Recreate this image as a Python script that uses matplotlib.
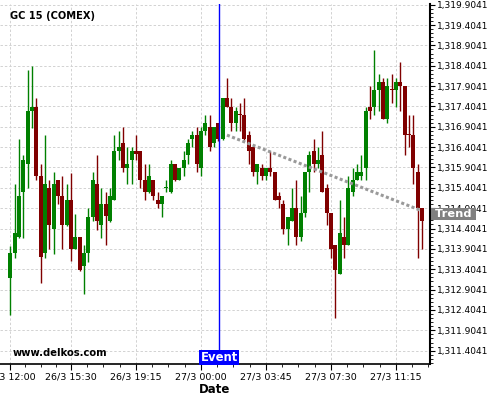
import numpy as np
import matplotlib
matplotlib.use("Agg")
import matplotlib.pyplot as plt
from matplotlib.ticker import FuncFormatter, FixedLocator
import matplotlib.transforms as mtransforms

# ---- data ----
opens = [1313.20, 1313.80, 1314.20, 1315.31, 1316.00, 1317.29, 1317.39, 1315.70, 1313.81, 1315.40,
         1314.39, 1315.60, 1315.20, 1314.50, 1315.10, 1313.89, 1314.20, 1313.49, 1313.80, 1314.69,
         1315.49, 1314.50, 1315.00, 1314.59, 1315.11, 1316.31, 1316.51, 1315.90, 1316.10, 1316.31,
         1316.31, 1315.60, 1315.30, 1315.60, 1315.10, 1315.00, 1315.40, 1315.30, 1315.99, 1315.60,
         1315.90, 1316.20, 1316.60, 1316.70, 1315.90, 1316.80, 1316.90, 1316.51, 1317.00, 1316.61,
         1317.60, 1317.40, 1317.00, 1317.21, 1317.20, 1316.70, 1316.41, 1315.79, 1315.90, 1315.70,
         1315.90, 1315.79, 1315.20, 1315.00, 1314.39, 1314.59, 1314.90, 1314.20, 1314.79, 1315.79,
         1316.31, 1315.99, 1316.20, 1315.40, 1314.79, 1314.00, 1313.29, 1314.20, 1314.00, 1315.30,
         1315.60, 1315.70, 1315.90, 1317.40, 1317.40, 1317.80, 1318.01, 1317.10, 1317.83, 1317.80,
         1318.01, 1317.90, 1316.72, 1316.70, 1315.79, 1314.90]
highs = [1313.98, 1315.49, 1316.60, 1316.20, 1318.29, 1318.40, 1317.60, 1315.98, 1316.70, 1315.59,
         1315.79, 1315.60, 1315.70, 1315.49, 1315.78, 1314.77, 1314.20, 1314.00, 1314.90, 1315.79,
         1316.20, 1315.40, 1315.30, 1315.40, 1316.70, 1316.80, 1316.90, 1316.41, 1316.41, 1316.70,
         1316.31, 1315.99, 1315.99, 1315.60, 1315.30, 1315.20, 1315.60, 1316.09, 1315.99, 1315.90,
         1316.31, 1316.60, 1316.80, 1316.90, 1316.90, 1317.20, 1317.20, 1316.90, 1317.00, 1317.60,
         1318.10, 1317.60, 1317.40, 1317.50, 1317.60, 1316.80, 1316.41, 1315.99, 1315.99, 1315.90,
         1316.31, 1315.79, 1315.30, 1315.10, 1314.69, 1315.40, 1315.60, 1315.20, 1315.79, 1316.31,
         1316.60, 1316.41, 1316.80, 1315.49, 1314.79, 1314.00, 1315.10, 1314.69, 1315.70, 1315.90,
         1315.99, 1316.20, 1317.40, 1317.90, 1318.79, 1318.20, 1318.10, 1318.10, 1318.20, 1318.10,
         1318.50, 1317.90, 1317.20, 1317.20, 1315.99, 1314.90]
lows = [1312.29, 1313.69, 1314.18, 1314.18, 1315.41, 1316.88, 1315.59, 1313.07, 1313.69, 1313.89,
        1313.79, 1315.00, 1313.89, 1314.46, 1313.60, 1313.89, 1313.36, 1312.79, 1313.59, 1314.59,
        1314.38, 1314.18, 1314.00, 1314.57, 1315.11, 1316.09, 1315.79, 1315.49, 1315.49, 1316.09,
        1315.40, 1315.10, 1315.28, 1315.10, 1314.90, 1314.69, 1315.30, 1315.28, 1315.57, 1315.60,
        1315.70, 1315.99, 1316.41, 1315.79, 1315.70, 1316.70, 1316.31, 1316.41, 1316.55, 1316.58,
        1317.38, 1316.80, 1316.80, 1316.80, 1316.58, 1315.99, 1315.70, 1315.49, 1315.60, 1315.60,
        1315.70, 1315.10, 1314.90, 1314.28, 1314.00, 1314.59, 1314.00, 1314.10, 1314.69, 1315.30,
        1315.79, 1315.90, 1315.30, 1314.49, 1313.69, 1312.20, 1313.29, 1313.69, 1314.00, 1315.20,
        1315.60, 1315.60, 1315.60, 1317.10, 1317.20, 1317.29, 1317.10, 1317.00, 1317.50, 1317.40,
        1317.29, 1316.20, 1316.41, 1315.49, 1313.69, 1313.89]
closes = [1313.80, 1314.29, 1315.20, 1316.09, 1317.29, 1317.39, 1315.70, 1313.70, 1315.49, 1314.50,
          1315.49, 1315.20, 1314.50, 1315.10, 1313.89, 1314.20, 1313.39, 1313.80, 1314.69, 1315.60,
          1314.59, 1315.00, 1314.70, 1315.20, 1316.31, 1316.41, 1315.90, 1315.99, 1316.31, 1316.23,
          1315.60, 1315.30, 1315.70, 1315.20, 1315.00, 1315.20, 1315.41, 1315.99, 1315.60, 1315.90,
          1316.09, 1316.51, 1316.70, 1315.99, 1316.80, 1317.00, 1316.41, 1316.90, 1316.61, 1317.60,
          1317.40, 1317.00, 1317.29, 1317.19, 1316.61, 1316.31, 1315.79, 1315.99, 1315.70, 1315.90,
          1315.79, 1315.11, 1315.11, 1314.39, 1314.69, 1314.90, 1314.20, 1314.79, 1315.79, 1316.20,
          1315.99, 1316.09, 1315.30, 1314.79, 1313.89, 1313.39, 1314.29, 1314.00, 1315.40, 1315.60,
          1315.79, 1315.79, 1317.29, 1317.29, 1317.80, 1318.01, 1317.10, 1317.90, 1317.80, 1318.01,
          1317.90, 1316.70, 1316.70, 1315.90, 1314.90, 1314.59]

tick_idx = [0, 14, 29, 44, 59, 74, 89]
tick_labels = ["26/3 12:00", "26/3 15:30", "26/3 19:15", "27/3 00:00",
               "27/3 03:45", "27/3 07:30", "27/3 11:15"]
event_idx = 48.2
trend_idx = [50, 94.5]
trend_vals = [1316.70, 1314.86]
y_ticks = [1311.4041 + 0.5 * k for k in range(18)]

# ---- figure ----
fig = plt.figure(figsize=(5, 4), dpi=100)
ax = fig.add_axes([0.0, 0.09, 0.86, 0.8993])

n = len(opens)
x = np.arange(n)
o = np.array(opens); h = np.array(highs); l = np.array(lows); c = np.array(closes)
up = c >= o
cols = np.where(up, "#008000", "#800000")

ax.vlines(x, l, h, colors=cols, linewidth=1.0, zorder=3)
bottoms = np.minimum(o, c)
heights = np.maximum(np.abs(c - o), 0.025)
ax.bar(x, heights, bottom=bottoms, width=0.88, color=cols, linewidth=0, zorder=4)

# trend line
ax.plot(trend_idx, trend_vals, color="#9a9a9a", linewidth=2.2,
        linestyle=(0, (1.0, 0.8)), zorder=5)

# event line
ax.axvline(event_idx, color="#0000ff", linewidth=1.0, zorder=6)

ax.set_xlim(-2.38, 96.86)
ax.set_ylim(1311.076, 1319.914)

# axes styling
for s in ["left", "top"]:
    ax.spines[s].set_visible(False)
ax.spines["right"].set_linewidth(1.5)
ax.spines["bottom"].set_linewidth(1.2)

ax.yaxis.tick_right()
ax.yaxis.set_major_locator(FixedLocator(y_ticks))
ax.yaxis.set_minor_locator(FixedLocator(np.arange(1311.1041, 1319.95, 0.1)))
ax.yaxis.set_major_formatter(FuncFormatter(lambda v, p: f"{v:,.4f}"))
ax.tick_params(axis="y", which="major", length=3.5, width=0.8, labelsize=6.5, pad=1.5)
ax.tick_params(axis="y", which="minor", length=2, width=0.6)

ax.set_xticks(tick_idx)
ax.set_xticklabels(tick_labels)
minor_x = []
for a, b in zip(tick_idx[:-1], tick_idx[1:]):
    minor_x += [a + (b - a) * k / 4 for k in (1, 2, 3)]
minor_x += [89 + 3.75 * k for k in (1, 2)]
ax.xaxis.set_minor_locator(FixedLocator(minor_x))
ax.tick_params(axis="x", which="major", length=4, width=0.8, labelsize=6.8, pad=2)
ax.tick_params(axis="x", which="minor", length=2, width=0.6)

ax.grid(True, which="major", color="#d2d2d2", linestyle=(0, (2.5, 2)), linewidth=0.7)
ax.set_axisbelow(True)

ax.set_xlabel("Date", fontsize=8.5, fontweight="bold", labelpad=1)

# texts
fig.text(0.02, 0.961, "GC 15 (COMEX)", fontsize=7.1, fontweight="bold", va="center", ha="left")
ax.text(0.03, 0.03, "www.delkos.com", transform=ax.transAxes, fontsize=7.2,
        fontweight="bold", va="center", ha="left", zorder=7)

trans = mtransforms.blended_transform_factory(ax.transData, ax.transAxes)
ax.text(event_idx, 0.0, "Event", transform=trans, ha="center", va="bottom",
        fontsize=8.4, fontweight="bold", color="white", zorder=8,
        bbox=dict(boxstyle="square,pad=0.12", facecolor="#0000ff", edgecolor="none"))

trans2 = mtransforms.blended_transform_factory(ax.transAxes, ax.transData)
ax.text(1.003, trend_vals[-1] - 0.1, " Trend ", transform=trans2, ha="left", va="center",
        fontsize=8.2, fontweight="bold", color="white", zorder=8, clip_on=False,
        bbox=dict(boxstyle="square,pad=0.05", facecolor="#808080", edgecolor="none"))

fig.savefig("out.png", dpi=100)
